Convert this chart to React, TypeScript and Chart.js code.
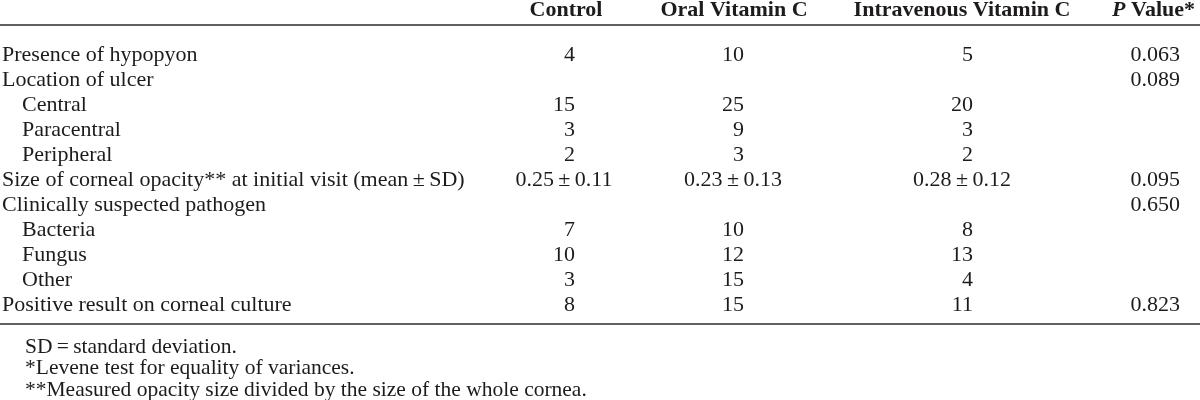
import React, { useEffect, useRef } from 'react';
import { Chart, registerables } from 'chart.js';

Chart.register(...registerables);

// ---------- data ----------
const columnHeaders = ['Control', 'Oral Vitamin C', 'Intravenous Vitamin C'];
const pHeaderItalic = 'P';
const pHeaderRest = ' Value*';

const rowLabels = [
  'Presence of hypopyon',
  'Location of ulcer',
  'Central',
  'Paracentral',
  'Peripheral',
  'Size of corneal opacity** at initial visit (mean\u2009\u00b1\u2009SD)',
  'Clinically suspected pathogen',
  'Bacteria',
  'Fungus',
  'Other',
  'Positive result on corneal culture',
];
const rowIndented = [false, false, true, true, true, false, false, true, true, true, false];

const controlValues = ['4', '', '15', '3', '2', '0.25\u2009\u00b1\u20090.11', '', '7', '10', '3', '8'];
const oralValues = ['10', '', '25', '9', '3', '0.23\u2009\u00b1\u20090.13', '', '10', '12', '15', '15'];
const ivValues = ['5', '', '20', '3', '2', '0.28\u2009\u00b1\u20090.12', '', '8', '13', '4', '11'];
const pValues = ['0.063', '0.089', '', '', '', '0.095', '0.650', '', '', '', '0.823'];

const footnotes = [
  'SD\u2009=\u2009standard deviation.',
  '*Levene test for equality of variances.',
  '**Measured opacity size divided by the size of the whole cornea.',
];

// ---------- layout (not data) ----------
const W = 1200;
const H = 400;
const FIRST_ROW_PX = 55;
const ROW_PITCH = 25;
const HEADER_ROW = -1.8;
const TOP_RULE_ROW = -1.2;
const BOTTOM_RULE_ROW = 10.76;
const FOOT_ROWS = [11.68, 12.54, 13.4];
const LABEL_X = 2;
const INDENT_X = 22;
const FOOT_X = 25;
const VALUE_RIGHT_X = [575, 744, 973];
const HEADER_CENTER_X = [566, 734, 962];
const P_RIGHT_X = 1180;
const P_HEADER_RIGHT_X = 1195;
const CENTER_SHIFT = 11;

const FONT_FAMILY = '"Liberation Serif", "Times New Roman", serif';
const TEXT_COLOR = '#1d1b1c';
const RULE_COLOR = '#2b2b2b';

const tablePlugin = {
  id: 'tableText',
  afterDraw(chart: any) {
    const ctx = chart.ctx as CanvasRenderingContext2D;
    const xs = chart.scales.x;
    const ys = chart.scales.y;
    ctx.save();
    ctx.fillStyle = TEXT_COLOR;
    ctx.textBaseline = 'middle';

    // header
    const hy = ys.getPixelForValue(HEADER_ROW);
    ctx.font = `bold 22px ${FONT_FAMILY}`;
    ctx.textAlign = 'center';
    columnHeaders.forEach((h, i) => {
      ctx.fillText(h, xs.getPixelForValue(HEADER_CENTER_X[i]), hy);
    });
    ctx.textAlign = 'left';
    const restW = ctx.measureText(pHeaderRest).width;
    ctx.font = `italic bold 22px ${FONT_FAMILY}`;
    const pW = ctx.measureText(pHeaderItalic).width;
    const pRight = xs.getPixelForValue(P_HEADER_RIGHT_X);
    ctx.fillText(pHeaderItalic, pRight - restW - pW, hy);
    ctx.font = `bold 22px ${FONT_FAMILY}`;
    ctx.fillText(pHeaderRest, pRight - restW, hy);

    // rules
    ctx.strokeStyle = RULE_COLOR;
    ctx.lineWidth = 1.6;
    [TOP_RULE_ROW, BOTTOM_RULE_ROW].forEach((r) => {
      const y = ys.getPixelForValue(r);
      ctx.beginPath();
      ctx.moveTo(xs.left, y);
      ctx.lineTo(xs.right, y);
      ctx.stroke();
    });

    // cells from dataset elements
    ctx.font = `22px ${FONT_FAMILY}`;
    chart.data.datasets.forEach((ds: any, di: number) => {
      const meta = chart.getDatasetMeta(di);
      meta.data.forEach((el: any, i: number) => {
        const t = ds.texts[i];
        if (!t) return;
        if (ds.align === 'left') {
          ctx.textAlign = 'left';
          ctx.fillText(t, el.x, el.y);
        } else if (t.indexOf('\u00b1') >= 0) {
          ctx.textAlign = 'center';
          ctx.fillText(t, el.x - CENTER_SHIFT, el.y);
        } else {
          ctx.textAlign = 'right';
          ctx.fillText(t, el.x, el.y);
        }
      });
    });

    // footnotes
    ctx.font = `21.5px ${FONT_FAMILY}`;
    ctx.textAlign = 'left';
    footnotes.forEach((f, i) => {
      ctx.fillText(f, xs.getPixelForValue(FOOT_X), ys.getPixelForValue(FOOT_ROWS[i]));
    });
    ctx.restore();
  },
};

export default function App() {
  const ref = useRef<HTMLCanvasElement | null>(null);
  useEffect(() => {
    if (!ref.current) return;
    const valueCols = [controlValues, oralValues, ivValues];
    const datasets: any[] = [
      {
        label: 'labels',
        align: 'left',
        texts: rowLabels,
        data: rowLabels.map((_, i) => ({ x: rowIndented[i] ? INDENT_X : LABEL_X, y: i })),
        pointRadius: 0,
      },
      ...valueCols.map((vals, c) => ({
        label: columnHeaders[c],
        align: 'right',
        texts: vals,
        data: vals.map((_, i) => ({ x: VALUE_RIGHT_X[c], y: i })),
        pointRadius: 0,
      })),
      {
        label: 'P Value',
        align: 'right',
        texts: pValues,
        data: pValues.map((_, i) => ({ x: P_RIGHT_X, y: i })),
        pointRadius: 0,
      },
    ];
    const chart = new Chart(ref.current, {
      type: 'scatter',
      data: { datasets },
      options: {
        animation: false,
        responsive: false,
        devicePixelRatio: 1,
        layout: { padding: 0 },
        events: [],
        plugins: { legend: { display: false }, tooltip: { enabled: false } },
        scales: {
          x: { type: 'linear', min: 0, max: W, display: false },
          y: {
            type: 'linear',
            reverse: true,
            min: -FIRST_ROW_PX / ROW_PITCH,
            max: (H - FIRST_ROW_PX) / ROW_PITCH,
            display: false,
          },
        },
      } as any,
      plugins: [tablePlugin],
    });
    return () => chart.destroy();
  }, []);
  return (
    <div style={{ position: 'absolute', left: 0, top: 0, width: W, height: H, background: '#fff' }}>
      <canvas ref={ref} width={W} height={H} style={{ width: W, height: H, display: 'block' }} />
    </div>
  );
}
